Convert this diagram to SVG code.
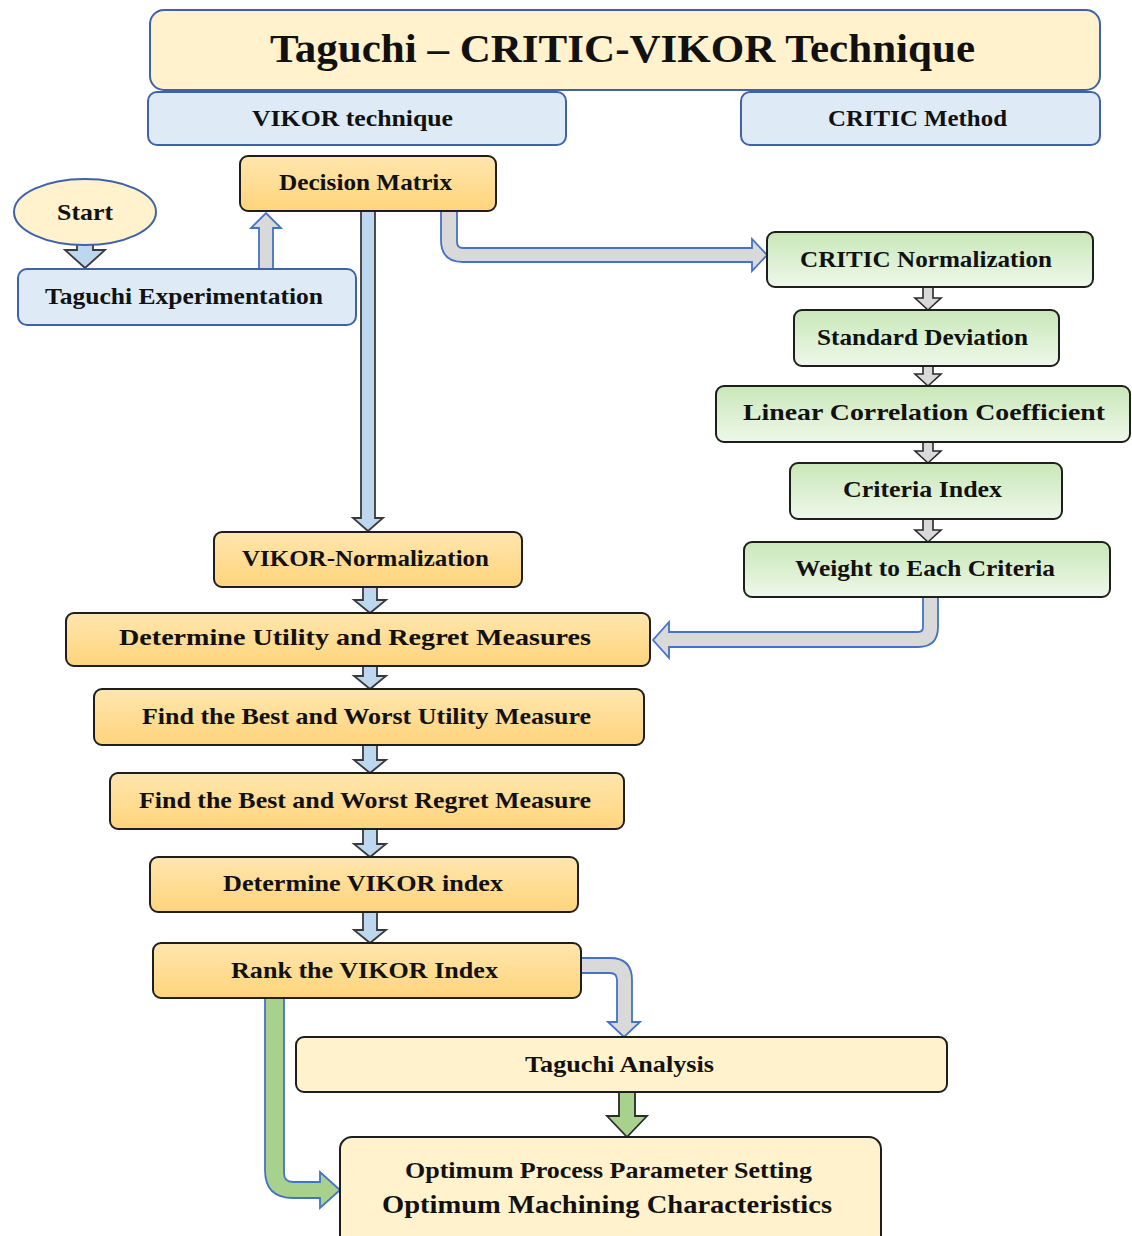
<svg xmlns="http://www.w3.org/2000/svg" width="1132" height="1236" viewBox="0 0 1132 1236">
<defs>
<linearGradient id="gOrange" x1="0" y1="0" x2="0" y2="1">
<stop offset="0" stop-color="#FFE6AE"/>
<stop offset="1" stop-color="#FFD47C"/>
</linearGradient>
<linearGradient id="gGreen" x1="0" y1="0" x2="0" y2="1">
<stop offset="0" stop-color="#C9E7B8"/>
<stop offset="1" stop-color="#EEF8EA"/>
</linearGradient>
</defs>
<style>
.blueBox{fill:#DEEBF7;stroke:#3F62A8;stroke-width:2}
.creamBlue{fill:#FFF2CC;stroke:#3F62A8;stroke-width:2}
.orange{fill:url(#gOrange);stroke:#1E1E1E;stroke-width:2}
.green{fill:url(#gGreen);stroke:#1E1E1E;stroke-width:2}
.cream{fill:#FFF2CC;stroke:#1E1E1E;stroke-width:2}
text{font-family:"Liberation Serif","Times New Roman",serif;font-weight:bold;fill:#111;font-size:23.5px}
.title{font-size:41px}
.arBlue{fill:#BDD7EE;stroke:#3A3A3A;stroke-width:1.8}
.arGrayB{fill:#D9D9D9;stroke:#4472C4;stroke-width:1.8}
.arGray{fill:#D9D9D9;stroke:#2A2A2A;stroke-width:1.6}
.arGreenB{fill:#A9D18E;stroke:#4472C4;stroke-width:1.8}
.arGreen{fill:#A9D18E;stroke:#2A2A2A;stroke-width:1.8}
</style>

<g id="connectors">
<!-- Start -> Taguchi Experimentation -->
<path class="arBlue" d="M77,244 L93,244 L93,250 L105,250 L85,268 L65,250 L77,250 Z"/>
<!-- Taguchi Experimentation -> Decision Matrix -->
<path class="arGrayB" d="M259,269 L259,228 L251,228 L266,213 L281,228 L273,228 L273,269 Z"/>
<!-- Decision Matrix -> VIKOR-Normalization -->
<path class="arBlue" d="M361,211 L375,211 L375,518 L383,518 L368,531 L353,518 L361,518 Z"/>
<!-- Decision Matrix -> CRITIC Normalization -->
<path class="arGrayB" d="M441,211 L441,240 Q441,262 463,262 L752,262 L752,271 L767,255 L752,239 L752,248 L463,248 Q457,248 457,242 L457,211 Z"/>
<!-- green chain small arrows -->
<path class="arGray" d="M923,287 L933,287 L933,298 L941,298 L928,310 L915,298 L923,298 Z"/>
<path class="arGray" d="M923,366 L933,366 L933,374 L941,374 L928,386 L915,374 L923,374 Z"/>
<path class="arGray" d="M923,442 L933,442 L933,451 L941,451 L928,463 L915,451 L923,451 Z"/>
<path class="arGray" d="M923,519 L933,519 L933,530 L941,530 L928,542 L915,530 L923,530 Z"/>
<!-- Weight to Each Criteria -> Determine Utility -->
<path class="arGrayB" d="M923,597 L923,627 Q923,632 918,632 L669,632 L669,622 L653,640 L669,658 L669,647 L918,647 Q938,647 938,627 L938,597 Z"/>
<!-- orange chain small arrows -->
<path class="arBlue" d="M363,587 L377,587 L377,600 L386,600 L370,613 L354,600 L363,600 Z"/>
<path class="arBlue" d="M363,666 L377,666 L377,676 L386,676 L370,689 L354,676 L363,676 Z"/>
<path class="arBlue" d="M363,745 L377,745 L377,760 L386,760 L370,773 L354,760 L363,760 Z"/>
<path class="arBlue" d="M363,829 L377,829 L377,844 L386,844 L370,857 L354,844 L363,844 Z"/>
<path class="arBlue" d="M363,912 L377,912 L377,930 L386,930 L370,943 L354,930 L363,930 Z"/>
<!-- Rank -> Taguchi Analysis -->
<path class="arGrayB" d="M581,958 L610,958 Q632,958 632,980 L632,1022 L640,1022 L624,1037 L608,1022 L617,1022 L617,980 Q617,973 610,973 L581,973 Z"/>
<!-- Rank -> Optimum (green elbow) -->
<path class="arGreenB" d="M265,998 L265,1170 Q265,1198 293,1198 L320,1198 L320,1208 L340,1190 L320,1172 L320,1182 L293,1182 Q284,1182 284,1173 L284,998 Z"/>
<!-- Taguchi Analysis -> Optimum -->
<path class="arGreen" d="M619,1092 L635,1092 L635,1116 L647,1116 L627,1137 L607,1116 L619,1116 Z"/>
</g>

<g id="title">
<rect class="creamBlue" x="150" y="10" width="950" height="80" rx="14"/>
<text class="title" x="270" y="62" textLength="705" lengthAdjust="spacingAndGlyphs">Taguchi – CRITIC-VIKOR Technique</text>
</g>
<g id="vikor-technique">
<rect class="blueBox" x="148" y="92" width="418" height="53" rx="9"/>
<text x="252" y="126" textLength="201" lengthAdjust="spacingAndGlyphs">VIKOR technique</text>
</g>
<g id="critic-method">
<rect class="blueBox" x="741" y="92" width="359" height="53" rx="9"/>
<text x="828" y="126" textLength="179" lengthAdjust="spacingAndGlyphs">CRITIC Method</text>
</g>
<g id="start">
<ellipse class="creamBlue" cx="85" cy="212" rx="71" ry="33"/>
<text x="57" y="220" textLength="56" lengthAdjust="spacingAndGlyphs">Start</text>
</g>
<g id="taguchi-experimentation">
<rect class="blueBox" x="18" y="269" width="338" height="56" rx="9"/>
<text x="45" y="304" textLength="278" lengthAdjust="spacingAndGlyphs">Taguchi Experimentation</text>
</g>
<g id="decision-matrix">
<rect class="orange" x="240" y="156" width="256" height="55" rx="8"/>
<text x="279" y="190" textLength="173" lengthAdjust="spacingAndGlyphs">Decision Matrix</text>
</g>
<g id="critic-normalization">
<rect class="green" x="767" y="232" width="326" height="55" rx="8"/>
<text x="800" y="267" textLength="252" lengthAdjust="spacingAndGlyphs">CRITIC Normalization</text>
</g>
<g id="standard-deviation">
<rect class="green" x="794" y="310" width="265" height="56" rx="8"/>
<text x="817" y="345" textLength="211" lengthAdjust="spacingAndGlyphs">Standard Deviation</text>
</g>
<g id="linear-correlation">
<rect class="green" x="716" y="386" width="414" height="56" rx="8"/>
<text x="743" y="420" textLength="362" lengthAdjust="spacingAndGlyphs">Linear Correlation Coefficient</text>
</g>
<g id="criteria-index">
<rect class="green" x="790" y="463" width="272" height="56" rx="8"/>
<text x="843" y="497" textLength="159" lengthAdjust="spacingAndGlyphs">Criteria Index</text>
</g>
<g id="weight-criteria">
<rect class="green" x="744" y="542" width="366" height="55" rx="8"/>
<text x="795" y="576" textLength="260" lengthAdjust="spacingAndGlyphs">Weight to Each Criteria</text>
</g>
<g id="vikor-normalization">
<rect class="orange" x="214" y="532" width="308" height="55" rx="8"/>
<text x="242" y="566" textLength="247" lengthAdjust="spacingAndGlyphs">VIKOR-Normalization</text>
</g>
<g id="utility-regret">
<rect class="orange" x="66" y="613" width="584" height="53" rx="8"/>
<text x="119" y="645" textLength="472" lengthAdjust="spacingAndGlyphs">Determine Utility and Regret Measures</text>
</g>
<g id="best-worst-utility">
<rect class="orange" x="94" y="689" width="550" height="56" rx="8"/>
<text x="142" y="724" textLength="449" lengthAdjust="spacingAndGlyphs">Find the Best and Worst Utility Measure</text>
</g>
<g id="best-worst-regret">
<rect class="orange" x="110" y="773" width="514" height="56" rx="8"/>
<text x="139" y="808" textLength="452" lengthAdjust="spacingAndGlyphs">Find the Best and Worst Regret Measure</text>
</g>
<g id="vikor-index">
<rect class="orange" x="150" y="857" width="428" height="55" rx="8"/>
<text x="223" y="891" textLength="280" lengthAdjust="spacingAndGlyphs">Determine VIKOR index</text>
</g>
<g id="rank-vikor">
<rect class="orange" x="153" y="943" width="428" height="55" rx="8"/>
<text x="231" y="978" textLength="267" lengthAdjust="spacingAndGlyphs">Rank the VIKOR Index</text>
</g>
<g id="taguchi-analysis">
<rect class="cream" x="296" y="1037" width="651" height="55" rx="8"/>
<text x="525" y="1072" textLength="189" lengthAdjust="spacingAndGlyphs">Taguchi Analysis</text>
</g>
<g id="optimum">
<rect class="cream" x="340" y="1137" width="541" height="110" rx="12"/>
<text x="405" y="1178" style="font-size:24px" textLength="407" lengthAdjust="spacingAndGlyphs">Optimum Process Parameter Setting</text>
<text x="382" y="1213" style="font-size:26px" textLength="450" lengthAdjust="spacingAndGlyphs">Optimum Machining Characteristics</text>
</g>
</svg>
